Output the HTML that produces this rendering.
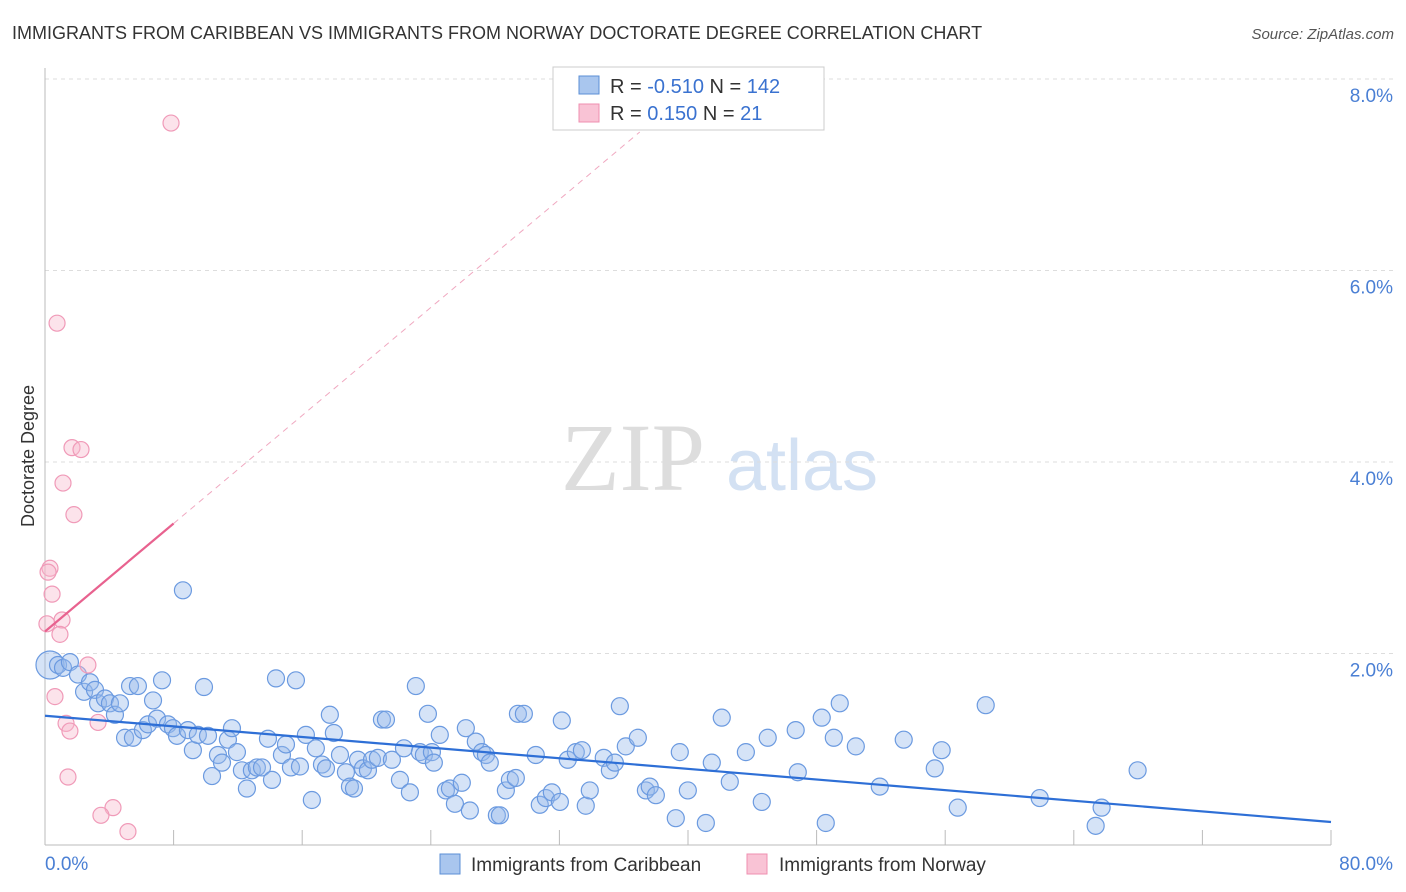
<!DOCTYPE html>
<html><head><meta charset="utf-8"><style>
body{margin:0;background:#fff;font-family:"Liberation Sans",sans-serif}
svg{display:block}
</style></head><body>
<svg width="1406" height="892" viewBox="0 0 1406 892" xmlns="http://www.w3.org/2000/svg" font-family="Liberation Sans, sans-serif">
<text x="12" y="39" font-size="18" fill="#333">IMMIGRANTS FROM CARIBBEAN VS IMMIGRANTS FROM NORWAY DOCTORATE DEGREE CORRELATION CHART</text>
<text x="1394" y="39" font-size="15" fill="#555" text-anchor="end" font-style="italic">Source: ZipAtlas.com</text>
<g>
<text x="633" y="490" font-size="96" font-family="Liberation Serif, serif" fill="#ddd" text-anchor="middle">ZIP</text>
<text x="802" y="490" font-size="72" fill="#d3e1f3" text-anchor="middle">atlas</text>
</g>
<g id="grid"></g>
<g id="axes"></g>
<g id="marks"></g>
<text transform="translate(34,456) rotate(-90)" font-size="18" fill="#333" text-anchor="middle">Doctorate Degree</text>
<g>
<rect x="553" y="67" width="271" height="63" fill="#fff" stroke="#ccc"/>
<rect x="579" y="76" width="20" height="18" fill="#a9c6ee" stroke="#5b8fd6"/>
<rect x="579" y="104" width="20" height="18" fill="#f9c3d5" stroke="#ef8fb0"/>
<text x="610" y="93" font-size="20" fill="#333">R = <tspan fill="#3a72d0">-0.510</tspan>   N = <tspan fill="#3a72d0">142</tspan></text>
<text x="610" y="120" font-size="20" fill="#333">R =   <tspan fill="#3a72d0">0.150</tspan>   N =   <tspan fill="#3a72d0">21</tspan></text>
</g>
<g>
<rect x="440" y="854" width="20" height="20" fill="#a9c6ee" stroke="#5b8fd6"/>
<text x="471" y="871" font-size="19" fill="#333">Immigrants from Caribbean</text>
<rect x="747" y="854" width="20" height="20" fill="#f9c3d5" stroke="#ef8fb0"/>
<text x="779" y="871" font-size="19" fill="#333">Immigrants from Norway</text>
</g>
</svg>
<script>
const blueX=[0.31,0.81,1.12,1.55,2.05,2.43,2.80,3.11,3.30,3.73,4.04,4.35,4.66,4.98,5.29,5.47,5.78,6.09,6.41,6.72,6.97,7.28,7.65,7.96,8.21,8.58,8.89,9.20,9.51,9.89,10.14,10.39,10.76,11.01,11.38,11.63,11.94,12.25,12.56,12.87,13.18,13.50,13.87,14.12,14.37,14.74,14.99,15.30,15.61,15.86,16.23,16.60,16.85,17.23,17.48,17.72,17.97,18.35,18.72,18.97,19.22,19.47,19.78,20.09,20.34,20.71,20.96,21.21,21.58,22.08,22.33,22.70,23.07,23.32,23.57,23.82,24.07,24.19,24.56,24.94,25.19,25.50,25.93,26.18,26.43,26.80,27.18,27.43,27.67,28.11,28.30,28.67,28.92,29.29,29.42,29.79,30.53,30.78,31.16,31.53,32.03,32.15,32.52,33.02,33.40,33.64,33.89,34.76,35.14,35.45,35.76,36.13,36.88,37.38,37.62,38.00,39.24,39.49,39.99,41.11,41.48,42.10,42.60,43.60,44.59,44.96,46.70,46.83,48.32,48.57,49.07,49.44,50.44,51.93,53.42,55.35,55.78,56.78,58.52,61.88,65.36,65.73,67.97];
const blueY=[1.88,1.88,1.85,1.91,1.78,1.60,1.70,1.62,1.48,1.53,1.48,1.36,1.48,1.12,1.66,1.12,1.66,1.20,1.26,1.51,1.32,1.72,1.26,1.22,1.14,2.66,1.20,0.99,1.15,1.65,1.14,0.72,0.94,0.86,1.10,1.22,0.97,0.78,0.59,0.78,0.81,0.81,1.11,0.68,1.74,0.94,1.05,0.81,1.72,0.82,1.15,0.47,1.01,0.84,0.80,1.36,1.17,0.94,0.76,0.61,0.59,0.89,0.80,0.78,0.89,0.91,1.31,1.31,0.89,0.68,1.01,0.55,1.66,0.97,0.94,1.37,0.97,0.86,1.15,0.57,0.59,0.43,0.65,1.22,0.36,1.08,0.97,0.94,0.86,0.31,0.31,0.57,0.68,0.70,1.37,1.37,0.94,0.42,0.49,0.55,0.45,1.30,0.89,0.97,0.99,0.41,0.57,0.91,0.78,0.86,1.45,1.03,1.12,0.57,0.61,0.52,0.28,0.97,0.57,0.23,0.86,1.33,0.66,0.97,0.45,1.12,1.20,0.76,1.33,0.23,1.12,1.48,1.03,0.61,1.10,0.80,0.99,0.39,1.46,0.49,0.20,0.39,0.78];
const pinkX=[7.84,0.75,1.68,2.24,1.12,1.80,0.31,0.19,0.44,1.06,0.12,0.93,2.67,0.62,1.31,1.55,3.30,1.43,4.23,3.48,5.16];
const pinkY=[7.54,5.45,4.15,4.13,3.78,3.45,2.89,2.85,2.62,2.35,2.31,2.20,1.88,1.55,1.27,1.19,1.28,0.71,0.39,0.31,0.14];
const blueTrend=[1.35,0.24];
const pinkTrend=[2.23,0.141];
const yTicks=[2,4,6,8];
const yTickLabels=["2.0%","4.0%","6.0%","8.0%"];
const xTicks=[0,8,16,24,32,40,48,56,64,72,80];
const NS="http://www.w3.org/2000/svg";
const sx=v=>45+v*(1286/80), sy=v=>845-v*95.75;
function mk(t,a,p){const e=document.createElementNS(NS,t);for(const k in a)e.setAttribute(k,a[k]);p.appendChild(e);return e;}
const grid=document.getElementById('grid'),axes=document.getElementById('axes'),marks=document.getElementById('marks');
yTicks.forEach((v,i)=>{
const l=mk('line',{x1:45,x2:1393,y1:sy(v),y2:sy(v),stroke:'#ddd','stroke-dasharray':'4,4'},grid);


const t=mk('text',{x:1393,y:sy(v)+23,'font-size':19,fill:'#4a7fd4','text-anchor':'end'},axes);
t.textContent=yTickLabels[i];


});
const ax=mk('line',{x1:45,x2:45,y1:68,y2:845,stroke:'#bbb'},axes);


const bx=mk('line',{x1:45,x2:1331,y1:845,y2:845,stroke:'#bbb'},axes);


xTicks.forEach(v=>{
const t=mk('line',{x1:sx(v),x2:sx(v),y1:830,y2:845,stroke:'#bbb'},axes);


});
const x0=mk('text',{x:45,y:870,'font-size':19,fill:'#4a7fd4'},axes);x0.textContent='0.0%';


const x1=mk('text',{x:1393,y:870,'font-size':19,fill:'#4a7fd4','text-anchor':'end'},axes);x1.textContent='80.0%';


blueX.forEach((x,i)=>{
const c=mk('circle',{cx:sx(x),cy:sy(blueY[i]),r:i===0?14:8.5,fill:'rgba(150,185,235,0.4)',stroke:'#6b9ae0','stroke-width':1.2},marks);


});
pinkX.forEach((x,i)=>{
const c=mk('circle',{cx:sx(x),cy:sy(pinkY[i]),r:8,fill:'rgba(248,185,205,0.4)',stroke:'#f09ab8','stroke-width':1.2},marks);


});
const bl=mk('line',{x1:sx(0),y1:sy(blueTrend[0]),x2:sx(80),y2:sy(blueTrend[1]),stroke:'#2e6fd6','stroke-width':2.2},marks);


const pe=v=>pinkTrend[0]+pinkTrend[1]*v;
const pl=mk('line',{x1:sx(0),y1:sy(pe(0)),x2:sx(8),y2:sy(pe(8)),stroke:'#e8628f','stroke-width':2.2},marks);


const pd=mk('line',{x1:sx(8),y1:sy(pe(8)),x2:sx(37),y2:sy(pe(37)),stroke:'#f0a8c0','stroke-width':1,'stroke-dasharray':'6,5'},marks);


</script>
</body></html>
